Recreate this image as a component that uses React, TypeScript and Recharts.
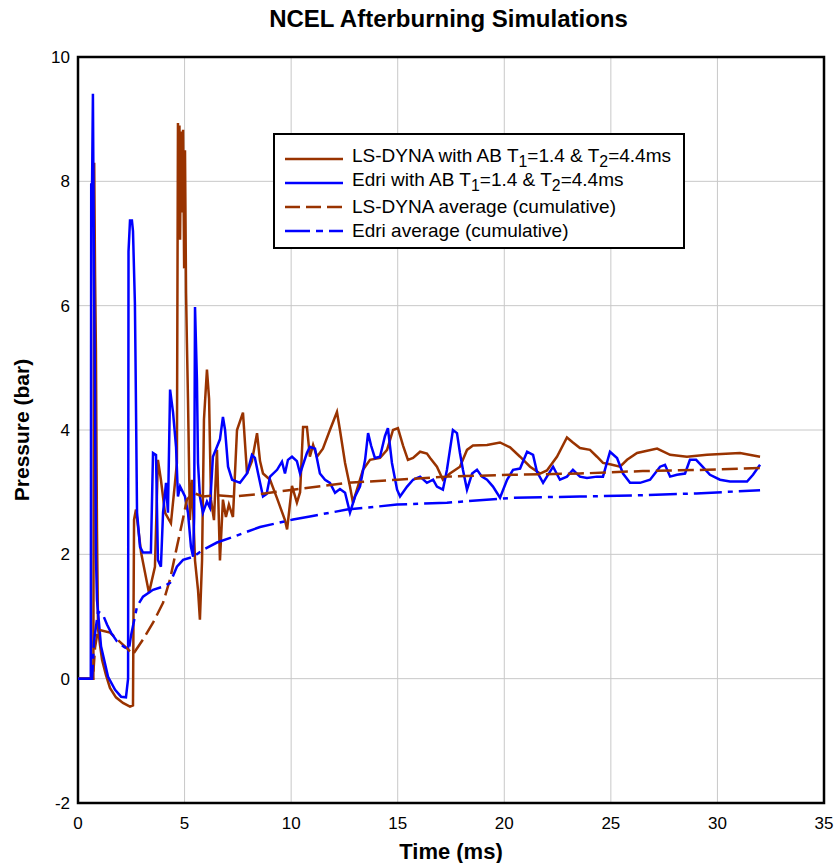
import React from "react"
import { LineChart, Line, XAxis, YAxis, CartesianGrid, ReferenceArea } from "recharts"

// NCEL afterburning: LS-DYNA vs Edri pressure histories + cumulative averages.
// Values, [time ms, pressure bar].

const lsdynaAB: [number, number][] = [
  [0, 0], [0.72, 0], [0.76, 8.3], [0.8, 6.5], [0.84, 5.3], [0.89, 2.4], [0.94, 0.8], [1.03, 0.55],
  [1.13, 0.3], [1.31, 0.06], [1.5, -0.15], [1.78, -0.3], [2.11, -0.39], [2.44, -0.45], [2.58, -0.43],
  [2.63, 2.56], [2.72, 2.72], [2.96, 2.03], [3.33, 1.38], [3.61, 1.8], [3.75, 3.52], [3.89, 3.2],
  [4.08, 2.67], [4.36, 2.5], [4.55, 3.15], [4.64, 3.47], [4.69, 8.94], [4.72, 7.4], [4.76, 8.9],
  [4.79, 7.06], [4.83, 8.8], [4.88, 7.5], [4.93, 8.83], [4.98, 6.6], [5.02, 8.5], [5.07, 6.2],
  [5.11, 5.4], [5.16, 4.5], [5.25, 2.55], [5.35, 3.2], [5.49, 1.9], [5.63, 1.43],
  [5.72, 0.95], [5.82, 1.9], [5.91, 4.17], [6.05, 4.97], [6.15, 4.5], [6.24, 2.88], [6.38, 2.55],
  [6.52, 3.68], [6.66, 1.9], [6.8, 2.88], [6.94, 2.6], [7.08, 2.8], [7.27, 2.6], [7.46, 4.0],
  [7.74, 4.28], [7.93, 3.3], [8.16, 3.5], [8.4, 3.95], [8.54, 3.5], [8.68, 3.3], [9.01, 3.2],
  [9.34, 2.9], [9.71, 2.55], [9.81, 2.4], [10.04, 3.1], [10.27, 2.83], [10.42, 3.0], [10.56, 4.05],
  [10.74, 4.05], [10.88, 3.57], [11.03, 3.76], [11.21, 3.57], [11.49, 3.7], [11.82, 4.0], [12.15, 4.29],
  [12.29, 4.0], [12.53, 3.47], [12.76, 3.09], [12.9, 2.83], [13.14, 3.1], [13.37, 3.36], [13.7, 3.52],
  [14.17, 3.55], [14.5, 3.68], [14.78, 4.0], [15.01, 4.03], [15.25, 3.75], [15.48, 3.52], [15.72, 3.55],
  [16.05, 3.65], [16.37, 3.62], [16.52, 3.55], [16.84, 3.41], [17.12, 3.2], [17.45, 3.3], [17.92, 3.41],
  [18.25, 3.68], [18.53, 3.75], [19.19, 3.76], [19.8, 3.8], [20.27, 3.72], [20.74, 3.57], [21.21, 3.41],
  [21.68, 3.3], [22.0, 3.35], [22.47, 3.57], [22.94, 3.88], [23.22, 3.8], [23.55, 3.71], [24.02, 3.68],
  [24.35, 3.57], [24.63, 3.47], [24.96, 3.45], [25.43, 3.41], [25.76, 3.52], [26.23, 3.63], [27.17, 3.7],
  [27.78, 3.6], [28.57, 3.57], [29.51, 3.6], [31.06, 3.63], [32.0, 3.57],
]

const edriAB: [number, number][] = [
  [0, 0], [0.6, 0], [0.62, 7.95], [0.66, 7.95], [0.7, 9.41], [0.75, 6.5], [0.8, 4.5], [0.84, 2.0],
  [0.89, 1.27], [1.08, 0.52], [1.41, 0.03], [1.74, -0.18], [2.02, -0.29], [2.25, -0.3], [2.35, 0],
  [2.37, 6.87], [2.44, 7.37], [2.53, 7.37], [2.58, 7.2], [2.67, 6.03], [2.7, 5.08], [2.77, 2.67],
  [2.91, 2.12], [3.05, 2.03], [3.42, 2.03], [3.52, 3.63], [3.66, 3.6], [3.75, 1.91], [3.89, 1.8],
  [3.99, 2.67], [4.13, 3.15], [4.22, 2.67], [4.32, 4.65], [4.46, 4.28], [4.6, 3.73], [4.69, 2.93],
  [4.79, 3.09], [5.02, 2.93], [5.16, 2.67], [5.3, 2.12], [5.4, 1.96], [5.45, 2.6], [5.49, 5.98],
  [5.58, 4.81], [5.63, 3.47], [5.72, 2.93], [5.86, 2.67], [6.05, 2.85], [6.19, 2.75], [6.33, 3.57],
  [6.52, 3.73], [6.66, 3.85], [6.8, 4.21], [6.9, 4.0], [7.04, 3.41], [7.23, 3.2], [7.6, 3.15],
  [7.93, 3.3], [8.16, 3.6], [8.3, 3.55], [8.45, 3.3], [8.68, 2.93], [8.85, 2.97], [9.01, 3.25],
  [9.34, 3.36], [9.57, 3.49], [9.71, 3.3], [9.85, 3.52], [10.04, 3.57], [10.27, 3.5], [10.42, 3.3],
  [10.74, 3.63], [10.88, 3.73], [11.12, 3.7], [11.35, 3.3], [11.59, 3.2], [11.82, 3.15], [12.06, 2.99],
  [12.29, 3.05], [12.53, 2.99], [12.76, 2.67], [13.0, 2.93], [13.23, 3.09], [13.47, 3.52], [13.61, 3.95],
  [13.75, 3.75], [13.93, 3.55], [14.17, 3.57], [14.4, 3.9], [14.54, 4.03], [14.73, 3.47], [14.97, 3.04],
  [15.11, 2.93], [15.44, 3.09], [15.72, 3.2], [16.05, 3.25], [16.37, 3.15], [16.66, 3.2], [16.84, 3.09],
  [17.12, 3.04], [17.31, 3.36], [17.45, 3.68], [17.59, 4.0], [17.78, 3.95], [17.92, 3.63], [18.06, 3.36],
  [18.25, 3.04], [18.49, 3.3], [18.72, 3.36], [18.95, 3.25], [19.19, 3.2], [19.47, 3.09], [19.8, 2.91],
  [20.13, 3.2], [20.41, 3.36], [20.74, 3.38], [21.07, 3.65], [21.35, 3.6], [21.53, 3.33], [21.82, 3.15],
  [22.0, 3.25], [22.29, 3.41], [22.61, 3.2], [22.94, 3.25], [23.22, 3.36], [23.55, 3.25], [23.88, 3.23],
  [24.35, 3.25], [24.63, 3.25], [24.96, 3.65], [25.29, 3.55], [25.57, 3.3], [25.9, 3.15], [26.37, 3.15],
  [26.84, 3.2], [27.31, 3.41], [27.54, 3.44], [27.78, 3.25], [28.1, 3.28], [28.48, 3.3], [28.71, 3.52],
  [29.0, 3.52], [29.28, 3.42], [29.65, 3.28], [30.12, 3.2], [30.59, 3.17], [31.06, 3.17], [31.39, 3.17],
  [31.67, 3.28], [32.0, 3.44],
]

const lsdynaAvg: [number, number][] = [
  [0, 0], [0.7, 0], [0.8, 0.5], [0.94, 0.79], [1.5, 0.74], [2.35, 0.47], [2.58, 0.39], [3.05, 0.63],
  [3.52, 0.9], [3.99, 1.22], [4.32, 1.6], [4.64, 2.12], [4.88, 2.5], [5.11, 2.88], [5.4, 2.99],
  [5.86, 2.93], [6.52, 2.95], [7.27, 2.93], [8.54, 2.97], [10.09, 3.04], [12.62, 3.15], [14.97, 3.2],
  [17.31, 3.25], [20.41, 3.28], [23.55, 3.3], [26.5, 3.34], [29.5, 3.36], [32.0, 3.39],
]

const edriAvg: [number, number][] = [
  [0, 0], [0.66, 0], [0.75, 0.6], [0.94, 1.08], [1.17, 1.03], [1.36, 0.87], [1.55, 0.74], [1.83, 0.6],
  [2.16, 0.51], [2.39, 0.47], [2.49, 0.7], [2.77, 1.16], [3.05, 1.32], [3.52, 1.43], [3.99, 1.48],
  [4.32, 1.54], [4.64, 1.8], [4.93, 1.91], [5.4, 1.96], [5.86, 2.07], [6.52, 2.19], [7.27, 2.28],
  [8.54, 2.44], [10.09, 2.56], [10.88, 2.61], [12.62, 2.72], [14.97, 2.8], [17.31, 2.83], [20.41, 2.91],
  [23.55, 2.93], [26.5, 2.95], [29.0, 2.98], [32.0, 3.03],
]

const timeTicks = [0, 5, 10, 15, 20, 25, 30, 35]
const pressureTicks = [-2, 0, 2, 4, 6, 8, 10]

const BROWN = "#993300"
const BLUE = "#0000ff"
const FONT = '"Liberation Sans", Arial, sans-serif'

const toPoints = (rows: [number, number][]) => rows.map(([t, p]) => ({ t, p }))

const series = [
  { id: "lsdyna", rows: lsdynaAB, color: BROWN, dash: undefined as string | undefined },
  { id: "edri", rows: edriAB, color: BLUE, dash: undefined as string | undefined },
  { id: "lsdynaAvg", rows: lsdynaAvg, color: BROWN, dash: "16 6" },
  { id: "edriAvg", rows: edriAvg, color: BLUE, dash: "28 6 5 6" },
]

const legendItems = [
  { color: BROWN, dash: undefined as string | undefined, label: <>LS-DYNA with AB T<sub>1</sub>=1.4 &amp; T<sub>2</sub>=4.4ms</> },
  { color: BLUE, dash: undefined as string | undefined, label: <>Edri with AB T<sub>1</sub>=1.4 &amp; T<sub>2</sub>=4.4ms</> },
  { color: BROWN, dash: "15 6", label: <>LS-DYNA average (cumulative)</> },
  { color: BLUE, dash: "25 6 7 6", label: <>Edri average (cumulative)</> },
]

function ChartLegend() {
  return (
    <div
      style={{
        position: "absolute",
        left: 273,
        top: 133,
        width: 412,
        height: 116,
        boxSizing: "border-box",
        border: "2px solid #000",
        background: "#fff",
        padding: "12px 0 0 10px",
        fontFamily: FONT,
        fontSize: 19,
        lineHeight: "24px",
        color: "#000",
      }}
    >
      {legendItems.map((item, i) => (
        <div key={i} style={{ display: "flex", alignItems: "center", height: 24 }}>
          <svg width={58} height={6} style={{ marginRight: 9 }}>
            <line x1={0} y1={3} x2={58} y2={3} stroke={item.color} strokeWidth={2.5} strokeDasharray={item.dash} />
          </svg>
          <span style={{ whiteSpace: "nowrap" }}>{item.label}</span>
        </div>
      ))}
    </div>
  )
}

export default function App() {
  return (
    <div style={{ position: "absolute", left: 0, top: 0, width: 837, height: 863, background: "#fff" }}>
      <div
        style={{
          position: "absolute",
          left: 0,
          top: 5,
          width: 897,
          textAlign: "center",
          fontFamily: FONT,
          fontWeight: "bold",
          fontSize: 24,
        }}
      >
        NCEL Afterburning Simulations
      </div>
      <LineChart
        width={837}
        height={863}
        margin={{ top: 57, right: 13, bottom: 0, left: 18 }}
        style={{ fontFamily: FONT }}
      >
        <CartesianGrid stroke="#c8c8c8" strokeWidth={1} />
        <XAxis
          dataKey="t"
          type="number"
          domain={[0, 35]}
          ticks={timeTicks}
          allowDataOverflow
          height={60}
          axisLine={false}
          tickLine={false}
          tickSize={6}
          tickMargin={8}
          tick={{ fontSize: 17, fill: "#000" }}
          label={{ value: "Time (ms)", position: "insideBottom", offset: 4, style: { fontSize: 22, fontWeight: "bold", fill: "#000" } }}
        />
        <YAxis
          dataKey="p"
          type="number"
          domain={[-2, 10]}
          ticks={pressureTicks}
          allowDataOverflow
          width={60}
          axisLine={false}
          tickLine={false}
          tick={{ fontSize: 17, fill: "#000" }}
          label={{ value: "Pressure (bar)", angle: -90, position: "insideLeft", offset: 4, style: { textAnchor: "middle", fontSize: 21, fontWeight: "bold", fill: "#000" } }}
        />
        {series.map((s) => (
          <Line
            key={s.id}
            data={toPoints(s.rows)}
            dataKey="p"
            type="linear"
            stroke={s.color}
            strokeWidth={2.5}
            strokeDasharray={s.dash}
            dot={false}
            activeDot={false}
            isAnimationActive={false}
          />
        ))}
        <ReferenceArea x1={0} x2={35} y1={-2} y2={10} fill="none" fillOpacity={0} stroke="#000" strokeWidth={2.5} />
      </LineChart>
      <ChartLegend />
    </div>
  )
}
